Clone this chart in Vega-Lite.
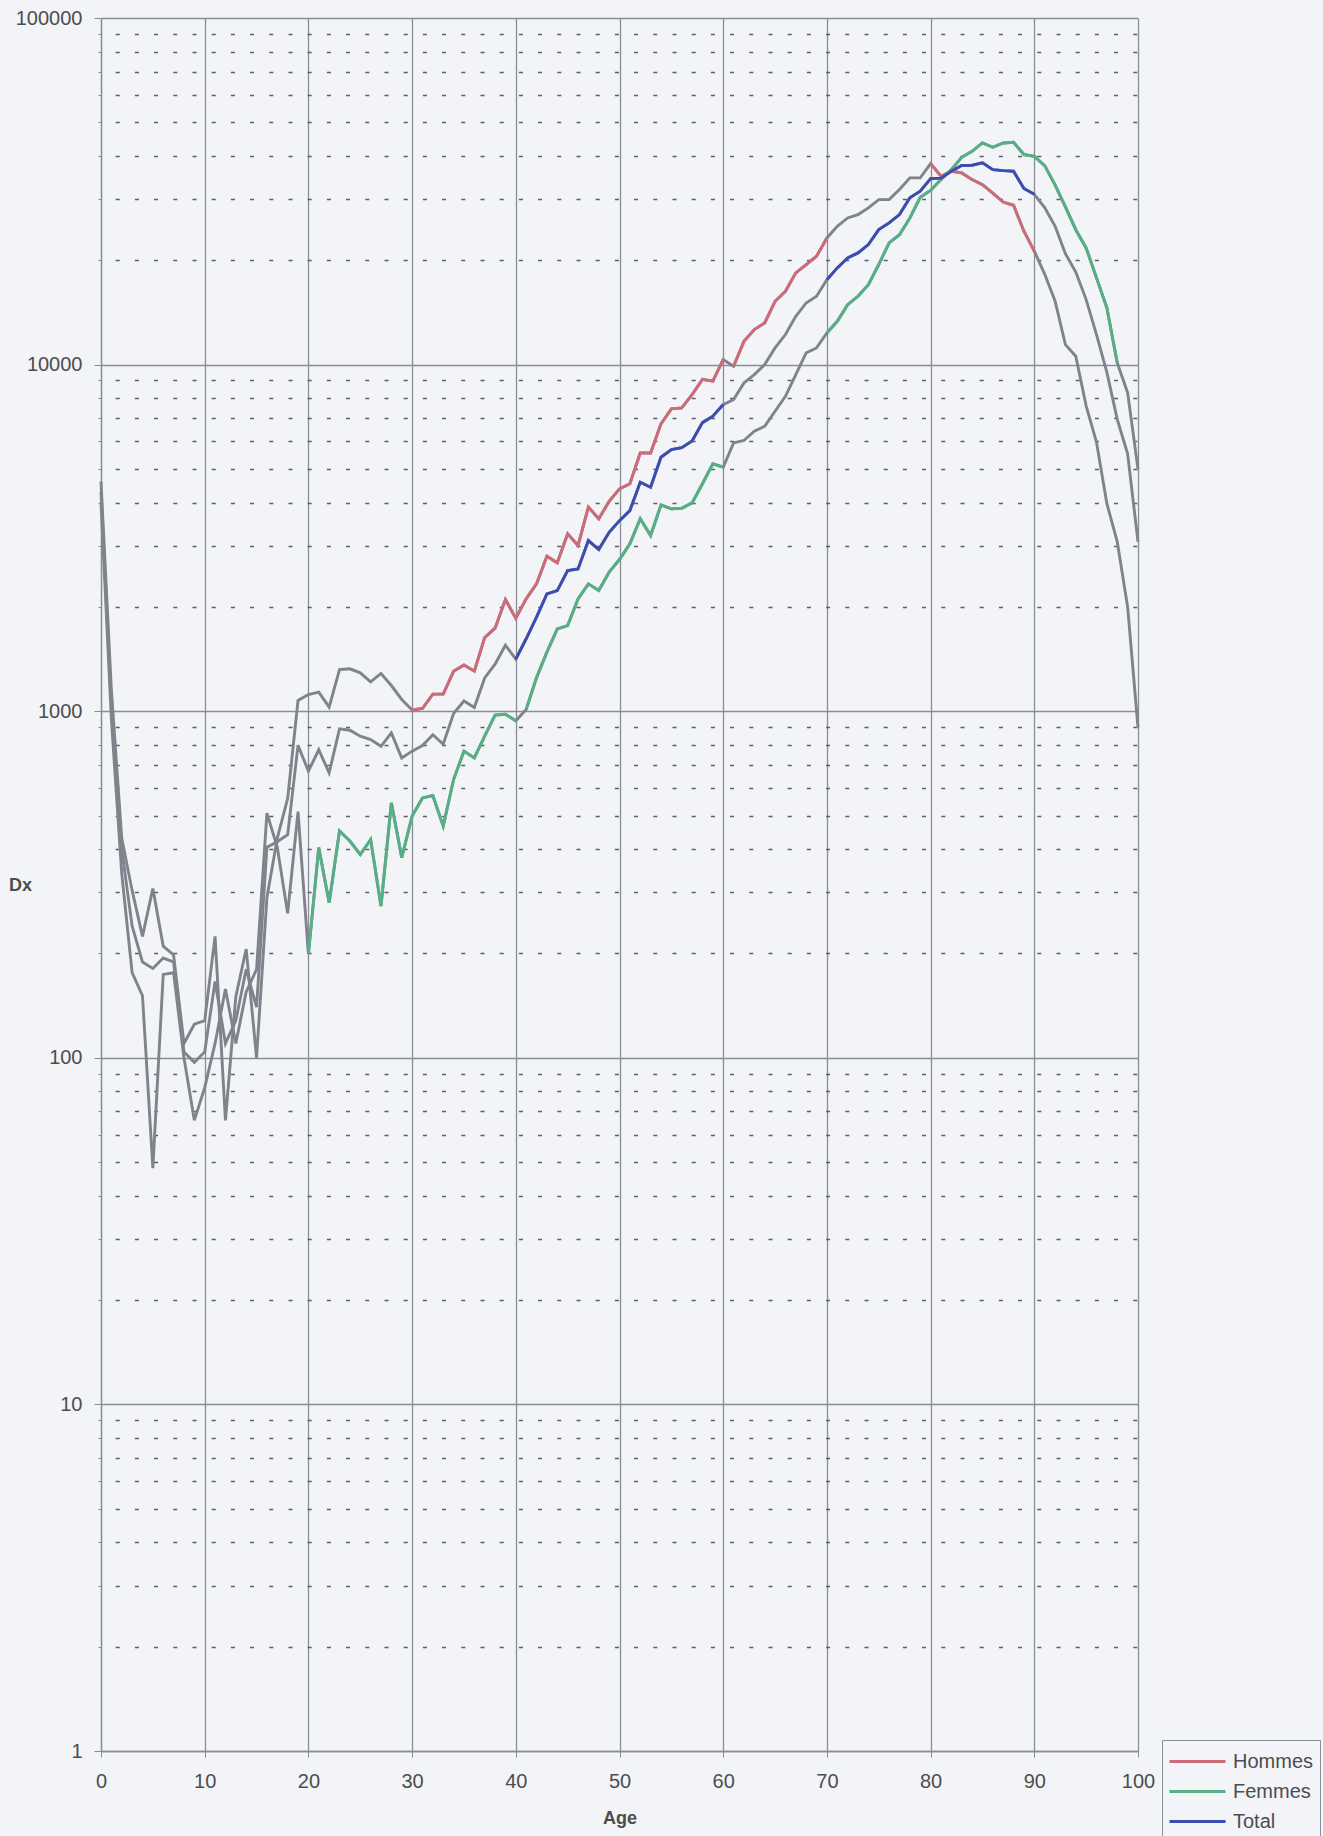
{
  "$schema": "https://vega.github.io/schema/vega-lite/v6.json",
  "width": 1037,
  "height": 1733,
  "autosize": {"type": "none"},
  "padding": {"left": 101, "top": 18, "right": 185, "bottom": 85},
  "background": "#f2f4f7",
  "config": {
    "view": {"stroke": null},
    "font": "Liberation Sans"
  },
  "data": {
    "values": [
      {"age": 0, "Hommes": 4600, "Femmes": 4000, "Total": 4300},
      {"age": 1, "Hommes": 1150, "Femmes": 950, "Total": 1050},
      {"age": 2, "Hommes": 430, "Femmes": 340, "Total": 400},
      {"age": 3, "Hommes": 304, "Femmes": 176, "Total": 240},
      {"age": 4, "Hommes": 224, "Femmes": 151, "Total": 189},
      {"age": 5, "Hommes": 308, "Femmes": 48, "Total": 181},
      {"age": 6, "Hommes": 210, "Femmes": 174, "Total": 194},
      {"age": 7, "Hommes": 198, "Femmes": 176, "Total": 189},
      {"age": 8, "Hommes": 110, "Femmes": 100, "Total": 104},
      {"age": 9, "Hommes": 125, "Femmes": 66, "Total": 97},
      {"age": 10, "Hommes": 128, "Femmes": 82, "Total": 104},
      {"age": 11, "Hommes": 224, "Femmes": 110, "Total": 166},
      {"age": 12, "Hommes": 66, "Femmes": 158, "Total": 110},
      {"age": 13, "Hommes": 150, "Femmes": 110, "Total": 128},
      {"age": 14, "Hommes": 206, "Femmes": 155, "Total": 180},
      {"age": 15, "Hommes": 100, "Femmes": 180, "Total": 140},
      {"age": 16, "Hommes": 290, "Femmes": 508, "Total": 405},
      {"age": 17, "Hommes": 430, "Femmes": 405, "Total": 420},
      {"age": 18, "Hommes": 560, "Femmes": 261, "Total": 440},
      {"age": 19, "Hommes": 1074, "Femmes": 513, "Total": 798},
      {"age": 20, "Hommes": 1117, "Femmes": 199, "Total": 671},
      {"age": 21, "Hommes": 1135, "Femmes": 404, "Total": 774},
      {"age": 22, "Hommes": 1027, "Femmes": 280, "Total": 664},
      {"age": 23, "Hommes": 1319, "Femmes": 451, "Total": 889},
      {"age": 24, "Hommes": 1325, "Femmes": 422, "Total": 881},
      {"age": 25, "Hommes": 1290, "Femmes": 386, "Total": 847},
      {"age": 26, "Hommes": 1215, "Femmes": 426, "Total": 828},
      {"age": 27, "Hommes": 1285, "Femmes": 274, "Total": 792},
      {"age": 28, "Hommes": 1186, "Femmes": 544, "Total": 866},
      {"age": 29, "Hommes": 1081, "Femmes": 378, "Total": 733},
      {"age": 30, "Hommes": 1008, "Femmes": 498, "Total": 767},
      {"age": 31, "Hommes": 1018, "Femmes": 562, "Total": 796},
      {"age": 32, "Hommes": 1120, "Femmes": 571, "Total": 855},
      {"age": 33, "Hommes": 1120, "Femmes": 466, "Total": 803},
      {"age": 34, "Hommes": 1303, "Femmes": 635, "Total": 985},
      {"age": 35, "Hommes": 1360, "Femmes": 767, "Total": 1070},
      {"age": 36, "Hommes": 1305, "Femmes": 733, "Total": 1025},
      {"age": 37, "Hommes": 1630, "Femmes": 847, "Total": 1247},
      {"age": 38, "Hommes": 1736, "Femmes": 975, "Total": 1367},
      {"age": 39, "Hommes": 2099, "Femmes": 980, "Total": 1550},
      {"age": 40, "Hommes": 1854, "Femmes": 938, "Total": 1413},
      {"age": 41, "Hommes": 2109, "Femmes": 1012, "Total": 1618},
      {"age": 42, "Hommes": 2330, "Femmes": 1250, "Total": 1868},
      {"age": 43, "Hommes": 2800, "Femmes": 1481, "Total": 2180},
      {"age": 44, "Hommes": 2680, "Femmes": 1728, "Total": 2229},
      {"age": 45, "Hommes": 3250, "Femmes": 1766, "Total": 2545},
      {"age": 46, "Hommes": 3007, "Femmes": 2109, "Total": 2574},
      {"age": 47, "Hommes": 3880, "Femmes": 2330, "Total": 3107},
      {"age": 48, "Hommes": 3591, "Femmes": 2229, "Total": 2926},
      {"age": 49, "Hommes": 4030, "Femmes": 2518, "Total": 3281},
      {"age": 50, "Hommes": 4381, "Femmes": 2739, "Total": 3546},
      {"age": 51, "Hommes": 4530, "Femmes": 3040, "Total": 3791},
      {"age": 52, "Hommes": 5561, "Femmes": 3591, "Total": 4577},
      {"age": 53, "Hommes": 5561, "Femmes": 3213, "Total": 4427},
      {"age": 54, "Hommes": 6745, "Femmes": 3936, "Total": 5403},
      {"age": 55, "Hommes": 7451, "Femmes": 3834, "Total": 5686},
      {"age": 56, "Hommes": 7500, "Femmes": 3850, "Total": 5760},
      {"age": 57, "Hommes": 8190, "Femmes": 3990, "Total": 6020},
      {"age": 58, "Hommes": 9064, "Femmes": 4530, "Total": 6800},
      {"age": 59, "Hommes": 8953, "Femmes": 5171, "Total": 7096},
      {"age": 60, "Hommes": 10337, "Femmes": 5058, "Total": 7667},
      {"age": 61, "Hommes": 9890, "Femmes": 5943, "Total": 7927},
      {"age": 62, "Hommes": 11670, "Femmes": 6040, "Total": 8853},
      {"age": 63, "Hommes": 12620, "Femmes": 6426, "Total": 9357},
      {"age": 64, "Hommes": 13190, "Femmes": 6640, "Total": 10000},
      {"age": 65, "Hommes": 15230, "Femmes": 7336, "Total": 11170},
      {"age": 66, "Hommes": 16280, "Femmes": 8100, "Total": 12210},
      {"age": 67, "Hommes": 18390, "Femmes": 9357, "Total": 13780},
      {"age": 68, "Hommes": 19440, "Femmes": 10810, "Total": 15060},
      {"age": 69, "Hommes": 20540, "Femmes": 11170, "Total": 15740},
      {"age": 70, "Hommes": 23200, "Femmes": 12340, "Total": 17580},
      {"age": 71, "Hommes": 25060, "Femmes": 13330, "Total": 19010},
      {"age": 72, "Hommes": 26490, "Femmes": 14890, "Total": 20310},
      {"age": 73, "Hommes": 27090, "Femmes": 15740, "Total": 21000},
      {"age": 74, "Hommes": 28320, "Femmes": 17010, "Total": 22200},
      {"age": 75, "Hommes": 29930, "Femmes": 19440, "Total": 24520},
      {"age": 76, "Hommes": 29930, "Femmes": 22440, "Total": 25640},
      {"age": 77, "Hommes": 31990, "Femmes": 23710, "Total": 27100},
      {"age": 78, "Hommes": 34570, "Femmes": 26490, "Total": 30280},
      {"age": 79, "Hommes": 34570, "Femmes": 30400, "Total": 31650},
      {"age": 80, "Hommes": 38000, "Femmes": 31800, "Total": 34400},
      {"age": 81, "Hommes": 34950, "Femmes": 34180, "Total": 34500},
      {"age": 82, "Hommes": 36130, "Femmes": 36520, "Total": 36130},
      {"age": 83, "Hommes": 35730, "Femmes": 39640, "Total": 37530},
      {"age": 84, "Hommes": 34180, "Femmes": 41260, "Total": 37600},
      {"age": 85, "Hommes": 33040, "Femmes": 43600, "Total": 38190},
      {"age": 86, "Hommes": 31260, "Femmes": 42370, "Total": 36520},
      {"age": 87, "Hommes": 29440, "Femmes": 43600, "Total": 36270},
      {"age": 88, "Hommes": 28820, "Femmes": 43810, "Total": 36130},
      {"age": 89, "Hommes": 24250, "Femmes": 40370, "Total": 32210},
      {"age": 90, "Hommes": 21250, "Femmes": 39900, "Total": 31000},
      {"age": 91, "Hommes": 18250, "Femmes": 37500, "Total": 28400},
      {"age": 92, "Hommes": 15260, "Femmes": 33000, "Total": 25100},
      {"age": 93, "Hommes": 11420, "Femmes": 28500, "Total": 20900},
      {"age": 94, "Hommes": 10570, "Femmes": 24500, "Total": 18500},
      {"age": 95, "Hommes": 7600, "Femmes": 21710, "Total": 15400},
      {"age": 96, "Hommes": 5970, "Femmes": 17790, "Total": 12200},
      {"age": 97, "Hommes": 3970, "Femmes": 14570, "Total": 9500},
      {"age": 98, "Hommes": 3080, "Femmes": 10110, "Total": 6950},
      {"age": 99, "Hommes": 2000, "Femmes": 8300, "Total": 5526},
      {"age": 100, "Hommes": 896, "Femmes": 4994, "Total": 3079}
    ]
  },
  "transform": [{"fold": ["Hommes", "Femmes", "Total"], "as": ["sexe", "Dx"]}],
  "encoding": {
    "x": {
      "field": "age",
      "type": "quantitative",
      "scale": {"domain": [0, 100], "nice": false, "zero": false},
      "axis": {
        "values": [0, 10, 20, 30, 40, 50, 60, 70, 80, 90, 100],
        "title": "Age",
        "grid": true,
        "gridColor": "#8a8d96",
        "gridWidth": 1.3,
        "domainColor": "#8a8d96",
        "domainWidth": 1.3,
        "tickColor": "#8a8d96",
        "tickSize": 6,
        "labelFontSize": 20,
        "labelColor": "#4d4d4d",
        "labelPadding": 14,
        "labelFlush": false,
        "titleFontSize": 18,
        "titleFontWeight": "bold",
        "titleColor": "#4d4d4d",
        "titleY": 67,
        "titleBaseline": "middle"
      }
    },
    "y": {
      "field": "Dx",
      "type": "quantitative",
      "scale": {"type": "log", "domain": [1, 100000], "nice": false},
      "axis": {
        "values": [1, 2, 3, 4, 5, 6, 7, 8, 9, 10, 20, 30, 40, 50, 60, 70, 80, 90, 100, 200, 300, 400, 500, 600, 700, 800, 900, 1000, 2000, 3000, 4000, 5000, 6000, 7000, 8000, 9000, 10000, 20000, 30000, 40000, 50000, 60000, 70000, 80000, 90000, 100000],
        "labelExpr": "indexof([1,10,100,1000,10000,100000], datum.value) >= 0 ? '' + datum.value : ''",
        "labelOverlap": false,
        "labelFlush": false,
        "labelFontSize": 20,
        "labelColor": "#4d4d4d",
        "labelPadding": 12,
        "grid": true,
        "gridColor": {"condition": {"test": "indexof([1,10,100,1000,10000,100000], datum.value) >= 0", "value": "#8a8d96"}, "value": "#5a5e68"},
        "gridDash": {"condition": {"test": "indexof([1,10,100,1000,10000,100000], datum.value) >= 0", "value": []}, "value": [4, 15.2]},
        "gridWidth": 1.3,
        "gridDashOffset": 5,
        "tickSize": {"condition": {"test": "indexof([1,10,100,1000,10000,100000], datum.value) >= 0", "value": 7}, "value": 3},
        "tickColor": "#8a8d96",
        "domainColor": "#8a8d96",
        "domainWidth": 1.3,
        "title": "Dx",
        "titleAngle": 0,
        "titleX": -81,
        "titleY": 867,
        "titleAlign": "center",
        "titleBaseline": "middle",
        "titleFontSize": 18,
        "titleFontWeight": "bold",
        "titleColor": "#4d4d4d"
      }
    },
    "color": {
      "field": "sexe",
      "type": "nominal",
      "scale": {"domain": ["Hommes", "Femmes", "Total"], "range": ["#cf6b78", "#55b085", "#3b4db3"]},
      "legend": {
        "orient": "none",
        "legendX": 1061,
        "legendY": 1722,
        "title": null,
        "symbolType": "M-1,0H3",
        "symbolSize": 784,
        "symbolStrokeWidth": 3,
        "labelFontSize": 20,
        "labelColor": "#4d4d4d",
        "labelOffset": 34,
        "rowPadding": 4,
        "padding": 6,
        "strokeColor": "#8a8d96",
        "fillColor": "#f2f4f7"
      }
    }
  },
  "layer": [
    {
      "mark": {"type": "line", "strokeWidth": 2.9},
      "encoding": {"color": {"value": "#80838c"}, "detail": {"field": "sexe"}}
    },
    {
      "transform": [{"filter": {"and": [{"field": "sexe", "equal": "Hommes"}, {"field": "age", "range": [30, 60]}]}}],
      "mark": {"type": "line", "strokeWidth": 2.9},
      "encoding": {}
    },
    {
      "transform": [{"filter": {"and": [{"field": "sexe", "equal": "Hommes"}, {"field": "age", "range": [61, 70]}]}}],
      "mark": {"type": "line", "strokeWidth": 2.9},
      "encoding": {}
    },
    {
      "transform": [{"filter": {"and": [{"field": "sexe", "equal": "Hommes"}, {"field": "age", "range": [80, 90]}]}}],
      "mark": {"type": "line", "strokeWidth": 2.9},
      "encoding": {}
    },
    {
      "transform": [{"filter": {"and": [{"field": "sexe", "equal": "Femmes"}, {"field": "age", "range": [20, 40]}]}}],
      "mark": {"type": "line", "strokeWidth": 2.9},
      "encoding": {}
    },
    {
      "transform": [{"filter": {"and": [{"field": "sexe", "equal": "Femmes"}, {"field": "age", "range": [41, 60]}]}}],
      "mark": {"type": "line", "strokeWidth": 2.9},
      "encoding": {}
    },
    {
      "transform": [{"filter": {"and": [{"field": "sexe", "equal": "Femmes"}, {"field": "age", "range": [70, 98]}]}}],
      "mark": {"type": "line", "strokeWidth": 2.9},
      "encoding": {}
    },
    {
      "transform": [{"filter": {"and": [{"field": "sexe", "equal": "Total"}, {"field": "age", "range": [40, 60]}]}}],
      "mark": {"type": "line", "strokeWidth": 2.9},
      "encoding": {}
    },
    {
      "transform": [{"filter": {"and": [{"field": "sexe", "equal": "Total"}, {"field": "age", "range": [70, 90]}]}}],
      "mark": {"type": "line", "strokeWidth": 2.9},
      "encoding": {}
    }
  ]
}
